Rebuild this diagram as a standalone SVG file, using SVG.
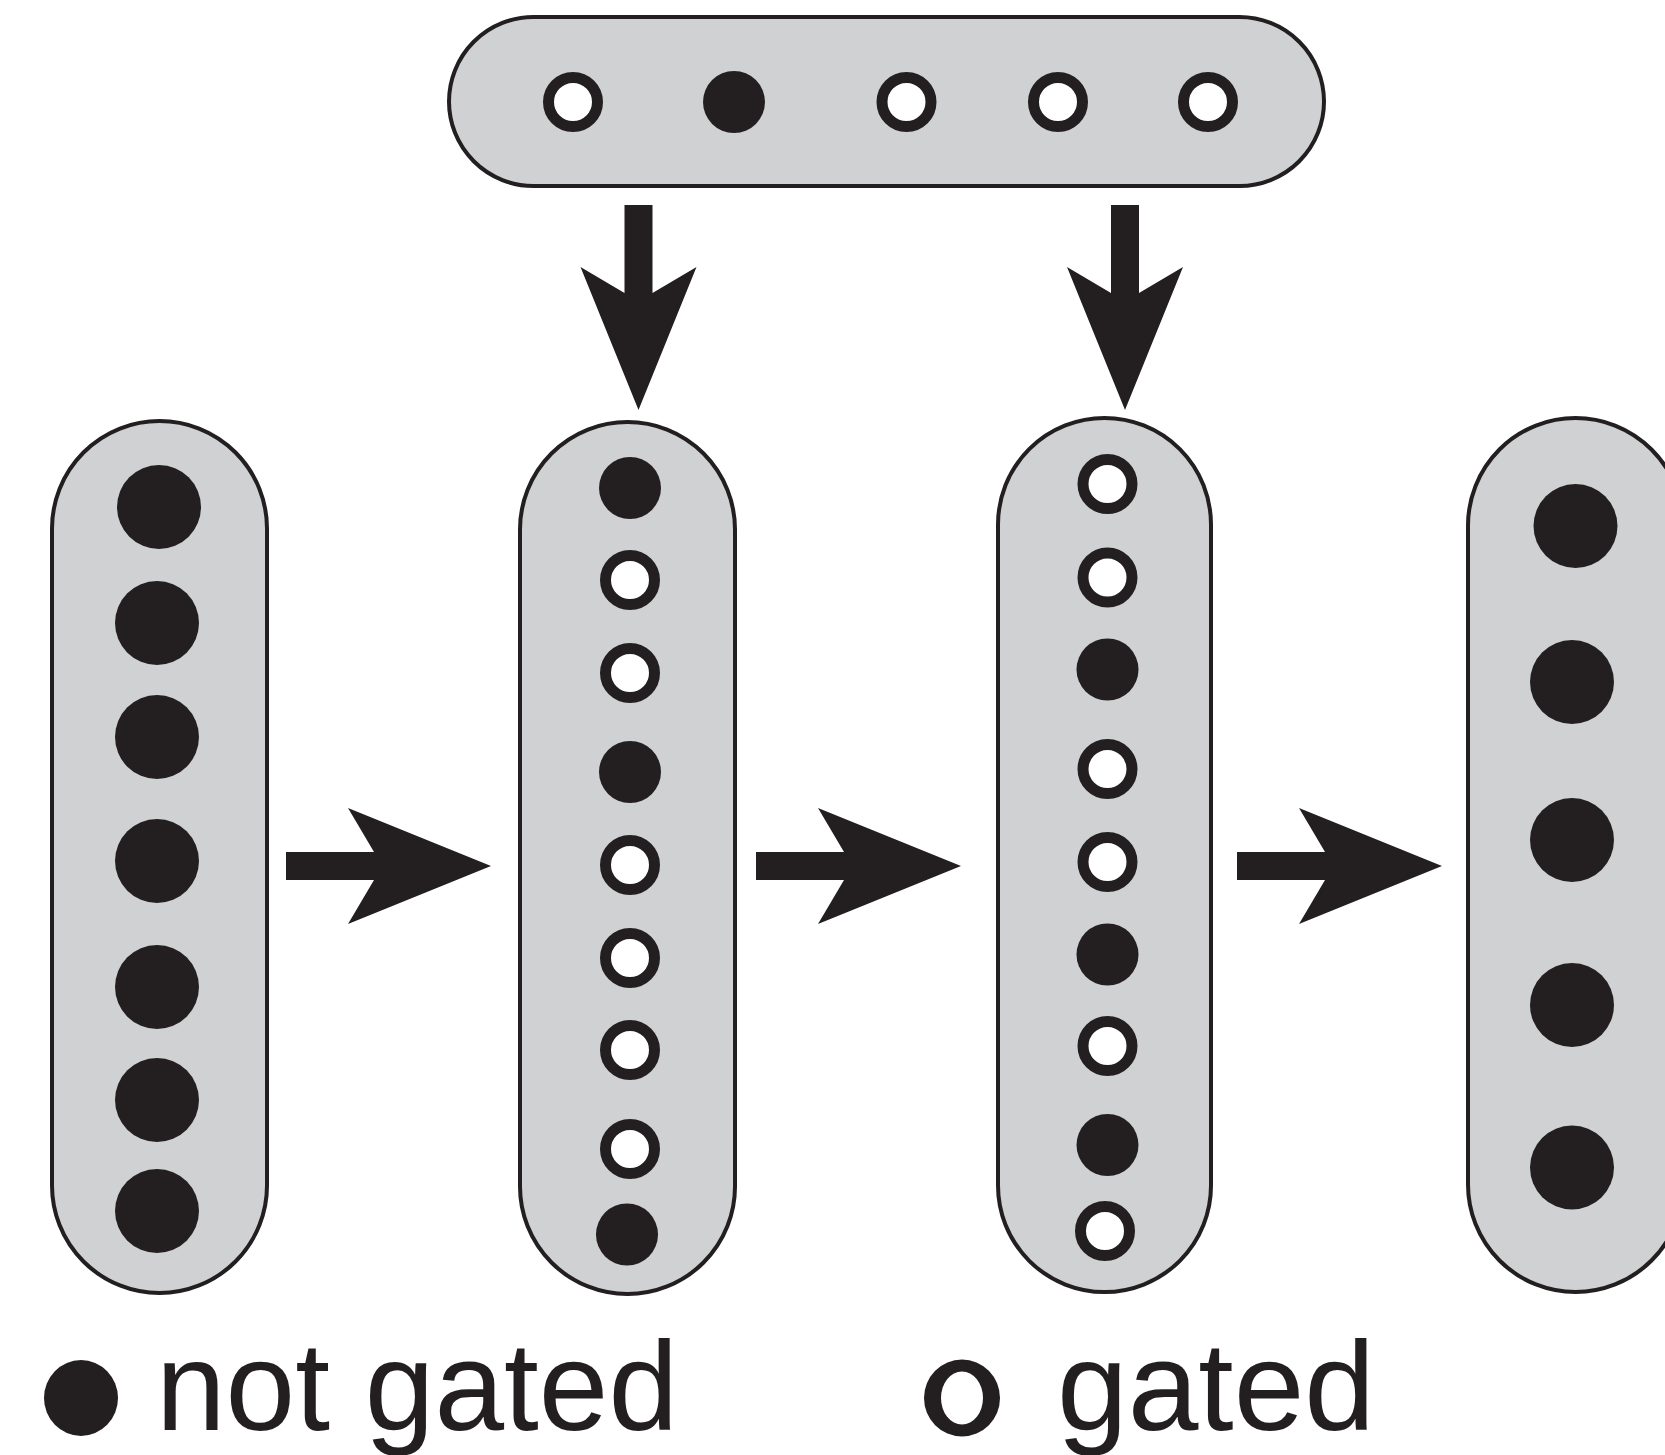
<svg xmlns="http://www.w3.org/2000/svg" xmlns:xlink="http://www.w3.org/1999/xlink" width="1665" height="1455" viewBox="0 0 1665 1455">
  <style>
    .pill { fill: #d0d1d3; stroke: #231f20; stroke-width: 4; }
    .on { fill: #231f20; }
    .off { fill: #ffffff; stroke: #231f20; stroke-width: 11; }
    .big { fill: #231f20; }
    .arrow { fill: #231f20; }
    .label { font-family: "Liberation Sans", Arial, sans-serif; font-size: 127px; fill: #231f20; }
  </style>
  <defs>
    <!-- block arrow pointing along +x, tail at origin -->
    <path id="arrow" d="M0,-14 L88,-14 L62,-58 L205,0 L62,58 L88,14 L0,14 Z"/>
  </defs>
  <rect width="1665" height="1455" fill="#ffffff"/>

  <!-- gating vector -->
  <g id="gate">
    <rect class="pill" x="449" y="17" width="875" height="169" rx="84.5"/>
    <circle class="off" cx="573" cy="102" r="24.5"/>
    <circle class="on" cx="734" cy="102" r="31"/>
    <circle class="off" cx="906.5" cy="102" r="24.5"/>
    <circle class="off" cx="1058" cy="102" r="24.5"/>
    <circle class="off" cx="1208" cy="102" r="24.5"/>
  </g>

  <!-- input layer -->
  <g id="layer-input">
    <rect class="pill" x="52" y="421" width="215" height="872" rx="107.5"/>
    <circle class="big" cx="159" cy="507" r="42"/>
    <circle class="big" cx="157" cy="623" r="42"/>
    <circle class="big" cx="157" cy="737" r="42"/>
    <circle class="big" cx="157" cy="861" r="42"/>
    <circle class="big" cx="157" cy="987" r="42"/>
    <circle class="big" cx="157" cy="1100" r="42"/>
    <circle class="big" cx="157" cy="1211" r="42"/>
  </g>

  <!-- first gated hidden layer -->
  <g id="layer-hidden-1">
    <rect class="pill" x="520" y="422" width="215" height="872" rx="107.5"/>
    <circle class="on" cx="630" cy="488" r="31"/>
    <circle class="off" cx="630" cy="580" r="24.5"/>
    <circle class="off" cx="630" cy="673" r="24.5"/>
    <circle class="on" cx="630" cy="772" r="31"/>
    <circle class="off" cx="630" cy="865" r="24.5"/>
    <circle class="off" cx="630" cy="958" r="24.5"/>
    <circle class="off" cx="630" cy="1050" r="24.5"/>
    <circle class="off" cx="630" cy="1149" r="24.5"/>
    <circle class="on" cx="627" cy="1234.5" r="31"/>
  </g>

  <!-- second gated hidden layer -->
  <g id="layer-hidden-2">
    <rect class="pill" x="998" y="418" width="213" height="874" rx="106.5"/>
    <circle class="off" cx="1107.5" cy="484" r="24.5"/>
    <circle class="off" cx="1107.5" cy="577.5" r="24.5"/>
    <circle class="on" cx="1107.5" cy="669.5" r="31"/>
    <circle class="off" cx="1107.5" cy="769" r="24.5"/>
    <circle class="off" cx="1107.5" cy="862" r="24.5"/>
    <circle class="on" cx="1107.5" cy="954.5" r="31"/>
    <circle class="off" cx="1107.5" cy="1046" r="24.5"/>
    <circle class="on" cx="1107.5" cy="1145" r="31"/>
    <circle class="off" cx="1105" cy="1231" r="24.5"/>
  </g>

  <!-- output layer -->
  <g id="layer-output">
    <rect class="pill" x="1468" y="418" width="215" height="874" rx="107.5"/>
    <circle class="big" cx="1575.5" cy="526" r="42"/>
    <circle class="big" cx="1572" cy="682" r="42"/>
    <circle class="big" cx="1572" cy="840" r="42"/>
    <circle class="big" cx="1572" cy="1005" r="42"/>
    <circle class="big" cx="1572" cy="1167.5" r="42"/>
  </g>

  <!-- connectors -->
  <g id="connectors" class="arrow">
    <use xlink:href="#arrow" href="#arrow" transform="translate(638.5,205) rotate(90)"/>
    <use xlink:href="#arrow" href="#arrow" transform="translate(1125,205) rotate(90)"/>
    <use xlink:href="#arrow" href="#arrow" transform="translate(286,866)"/>
    <use xlink:href="#arrow" href="#arrow" transform="translate(756,866)"/>
    <use xlink:href="#arrow" href="#arrow" transform="translate(1237,866)"/>
  </g>

  <!-- legend -->
  <g id="legend">
    <ellipse class="big" cx="81" cy="1398" rx="37" ry="38"/>
    <text class="label" x="156" y="1430" textLength="522" lengthAdjust="spacingAndGlyphs">not gated</text>
    <path fill="#231f20" fill-rule="evenodd" d="M924,1398 a38,38.5 0 1,0 76,0 a38,38.5 0 1,0 -76,0 Z M941,1398 a21,26.5 0 1,0 42,0 a21,26.5 0 1,0 -42,0 Z"/>
    <text class="label" x="1057" y="1430" textLength="318" lengthAdjust="spacingAndGlyphs">gated</text>
  </g>
</svg>
